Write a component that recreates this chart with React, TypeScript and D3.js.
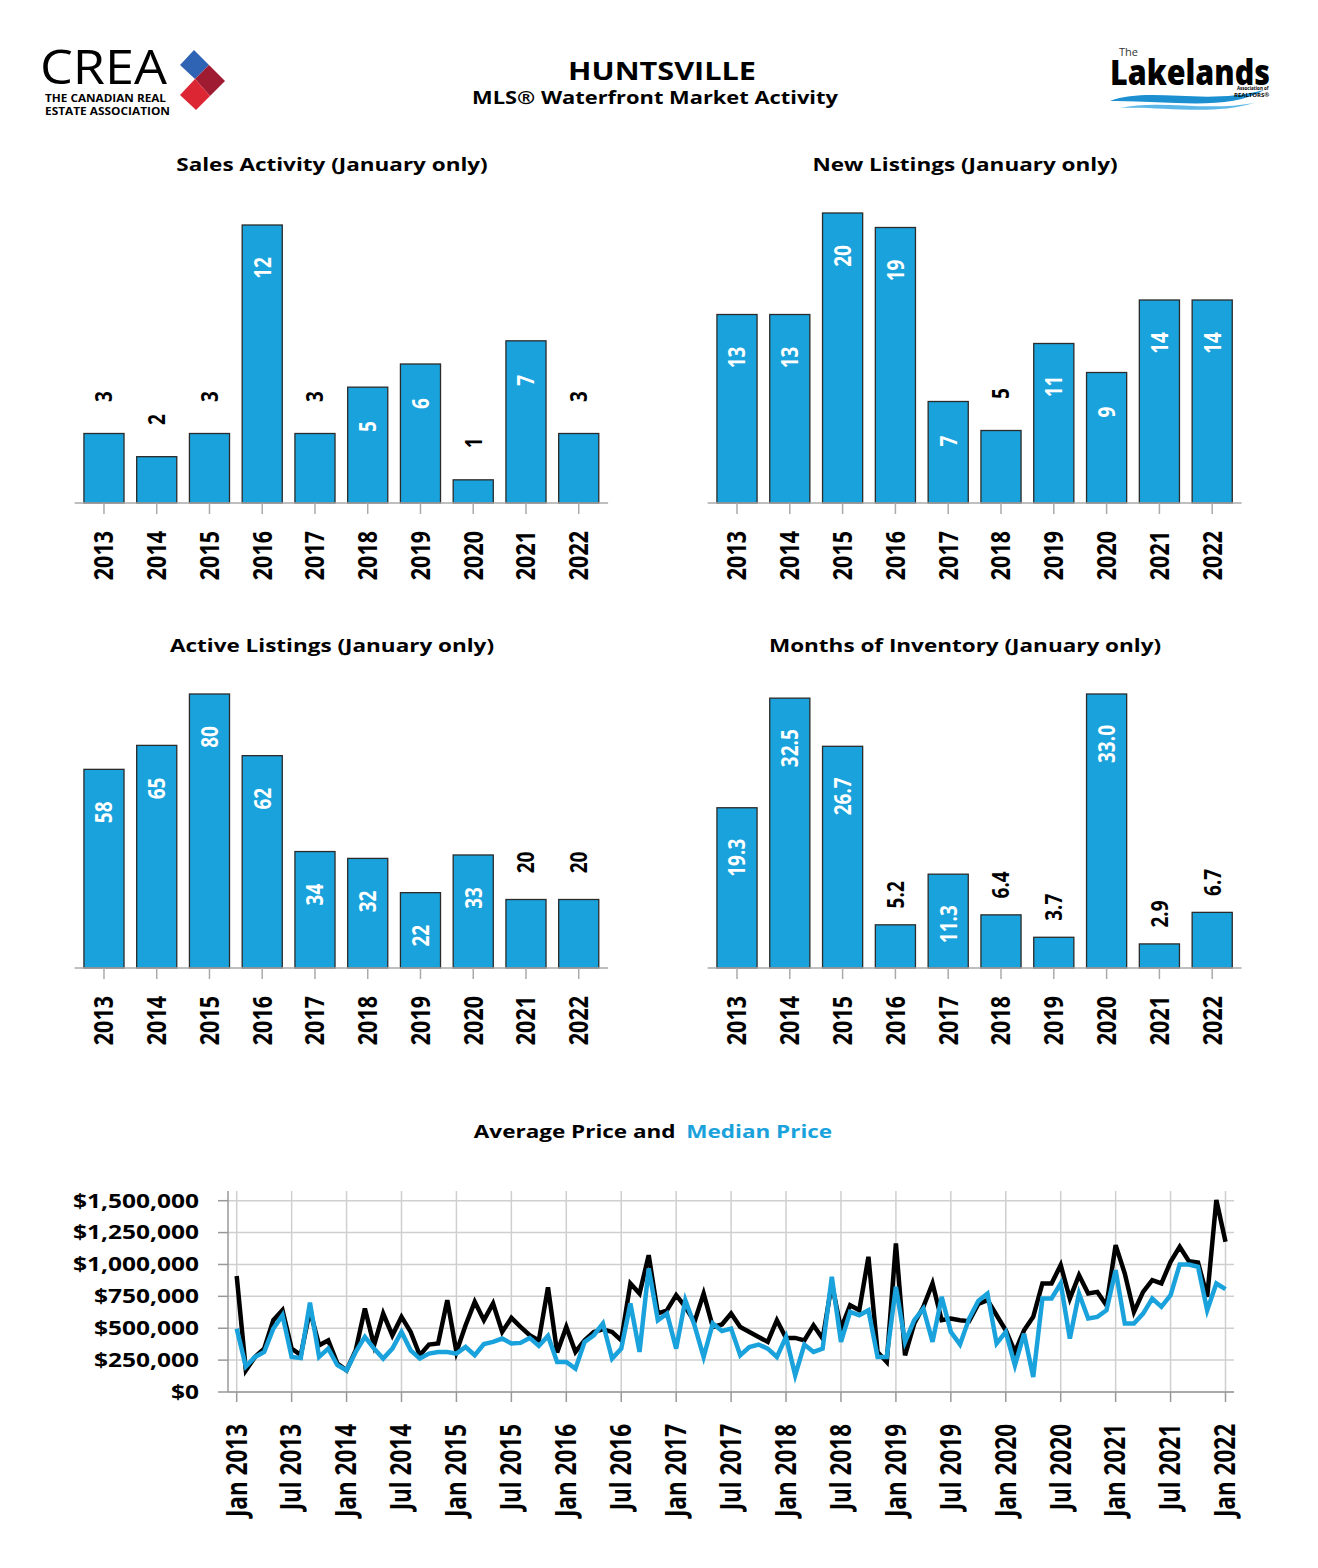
import React from "react";
import * as d3 from "d3";

const years = ["2013", "2014", "2015", "2016", "2017", "2018", "2019", "2020", "2021", "2022"];
const salesActivity = [3, 2, 3, 12, 3, 5, 6, 1, 7, 3];
const newListings = [13, 13, 20, 19, 7, 5, 11, 9, 14, 14];
const activeListings = [58, 65, 80, 62, 34, 32, 22, 33, 20, 20];
const monthsInventory = [19.3, 32.5, 26.7, 5.2, 11.3, 6.4, 3.7, 33.0, 2.9, 6.7];

const averagePrice = [
  910, 170, 275, 340, 563, 641, 340, 290, 640, 366, 405, 222,
  170, 327, 654, 366, 615, 445, 589, 471, 288, 372, 380, 720,
  314, 523, 707, 563, 694, 471, 581, 510, 445, 405, 820, 310,
  510, 314, 405, 471, 492, 471, 405, 851, 772, 1073, 615, 641,
  759, 668, 550, 772, 510, 530, 615, 510, 471, 432, 393, 563,
  424, 424, 405, 523, 419, 850, 497, 680, 641, 1060, 314, 236,
  1165, 288, 537, 668, 851, 563, 576, 563, 555, 690, 720, 602,
  484, 314, 484, 589, 851, 851, 995, 733, 916, 772, 785, 680,
  1152, 929, 628, 785, 877, 851, 1021, 1139, 1026, 1016, 746, 1505,
  1178,
].map((v) => v * 1000);

const medianPrice = [
  497, 200, 275, 314, 497, 602, 275, 267, 700, 275, 340, 210,
  170, 314, 432, 340, 262, 340, 471, 327, 262, 301, 314, 314,
  301, 353, 288, 376, 393, 419, 380, 385, 424, 361, 440, 236,
  236, 183, 393, 445, 537, 262, 340, 694, 314, 969, 563, 615,
  340, 720, 523, 275, 537, 478, 497, 288, 353, 372, 340, 275,
  432, 131, 372, 314, 340, 903, 393, 628, 602, 641, 275, 275,
  825, 393, 563, 654, 393, 746, 471, 373, 576, 713, 772, 380,
  471, 209, 458, 118, 733, 733, 851, 419, 772, 576, 589, 641,
  955, 537, 537, 615, 733, 668, 759, 1000, 1000, 982, 641, 851,
  806,
].map((v) => v * 1000);

const priceTicks = [0, 250000, 500000, 750000, 1000000, 1250000, 1500000];
const monthTickLabels = [
  "Jan 2013", "Jul 2013", "Jan 2014", "Jul 2014", "Jan 2015", "Jul 2015", "Jan 2016",
  "Jul 2016", "Jan 2017", "Jul 2017", "Jan 2018", "Jul 2018", "Jan 2019", "Jul 2019",
  "Jan 2020", "Jul 2020", "Jan 2021", "Jul 2021", "Jan 2022",
];

const BLUE = "#19a2db";
const FONT = "'Open Sans', sans-serif";
const SX = 1.25;

type TProps = {
  x: number;
  y: number;
  rot?: number;
  size: number;
  anchor?: string;
  fill?: string;
  weight?: number;
  dy?: string;
  children: React.ReactNode;
};

function T({ x, y, rot = 0, size, anchor = "middle", fill = "#000", weight = 700, dy, children }: TProps) {
  return (
    <text
      transform={`translate(${x},${y}) scale(${SX},1)${rot ? ` rotate(${rot})` : ""}`}
      fontSize={size}
      fontFamily={FONT}
      fontWeight={weight}
      textAnchor={anchor}
      fill={fill}
      dy={dy}
    >
      {children}
    </text>
  );
}

type BarProps = {
  title: string;
  titleX: number;
  titleY: number;
  values: number[];
  fmt: (v: number) => string;
  x0: number;
  x1: number;
  base: number;
  top: number;
  max: number;
};

function BarChart({ title, titleX, titleY, values, fmt, x0, x1, base, top, max }: BarProps) {
  const x = d3.scaleBand<string>().domain(years).range([x0, x1]).paddingInner(0.24).paddingOuter(0.12);
  const y = d3.scaleLinear().domain([0, max]).range([base, top]);
  return (
    <g>
      <T x={titleX} y={titleY} size={18}>{title}</T>
      {years.map((yr, i) => {
        const v = values[i];
        const yt = y(v);
        const h = base - yt;
        const bx = x(yr)!;
        const label = fmt(v);
        const inside = h > 74;
        const ly = inside ? yt + 36 + 3.5 * label.length : yt - (label.length >= 3 ? 30 : 37);
        return (
          <g key={yr}>
            <rect x={bx} y={yt} width={x.bandwidth()} height={h} fill={BLUE} stroke="#2b2b2b" strokeWidth={1.3} />
            <T x={bx + x.bandwidth() / 2} y={ly} rot={-90} size={19} dy="0.35em" fill={inside ? "#fff" : "#000"}>
              {label}
            </T>
          </g>
        );
      })}
      <line x1={x0 - 3} x2={x1 + 3} y1={base} y2={base} stroke="#aaa" strokeWidth={1.5} />
      {years.map((yr) => {
        const c = x(yr)! + x.bandwidth() / 2;
        return (
          <g key={"t" + yr}>
            <line x1={c} x2={c} y1={base} y2={base + 11} stroke="#aaa" strokeWidth={1.5} />
            <T x={c} y={base + 28} rot={-90} size={21.5} anchor="end" dy="0.35em">{yr}</T>
          </g>
        );
      })}
    </g>
  );
}

function PriceChart() {
  const left = 228;
  const right = 1234;
  const x = d3.scaleLinear().domain([0, averagePrice.length - 1]).range([236.7, 1225.5]);
  const y = d3.scaleLinear().domain([0, 1500000]).range([1392, 1200.7]);
  const line = d3
    .line<number>()
    .x((_, i) => x(i))
    .y((d) => y(d))
    .curve(d3.curveLinear);
  const fmt = (v: number) => "$" + d3.format(",")(v);
  return (
    <g>
      <text
        transform={`translate(653,1138) scale(${SX},1)`}
        fontSize={18}
        fontFamily={FONT}
        fontWeight={700}
        textAnchor="middle"
      >
        <tspan fill="#000">Average Price and </tspan>
        <tspan fill={BLUE} dx={4}>Median Price</tspan>
      </text>
      {priceTicks.map((t) => (
        <g key={t}>
          <line x1={left} x2={right} y1={y(t)} y2={y(t)} stroke="#cfcfcf" strokeWidth={1.5} />
          <line x1={left - 10} x2={left} y1={y(t)} y2={y(t)} stroke="#999" strokeWidth={1.5} />
          <T x={199} y={y(t)} size={19.6} anchor="end" dy="0.35em">{fmt(t)}</T>
        </g>
      ))}
      {monthTickLabels.map((lab, k) => {
        const xx = x(k * 6);
        return (
          <g key={lab}>
            <line x1={xx} x2={xx} y1={1191} y2={1392} stroke="#cfcfcf" strokeWidth={1.5} />
            <line x1={xx} x2={xx} y1={1392} y2={1402} stroke="#999" strokeWidth={1.5} />
            <T x={xx} y={1424} rot={-90} size={22.5} anchor="end" dy="0.35em">{lab}</T>
          </g>
        );
      })}
      <line x1={left} x2={left} y1={1191} y2={1392} stroke="#999" strokeWidth={1.5} />
      <line x1={left} x2={right} y1={1392} y2={1392} stroke="#999" strokeWidth={1.5} />
      <path d={line(averagePrice) || ""} fill="none" stroke="#000" strokeWidth={4.5} strokeLinejoin="miter" />
      <path d={line(medianPrice) || ""} fill="none" stroke={BLUE} strokeWidth={4.5} strokeLinejoin="miter" />
    </g>
  );
}

function Header() {
  return (
    <g>
      <text x={40} y={84} fontSize={48} fontFamily={FONT} fontWeight={400} textLength={127} lengthAdjust="spacingAndGlyphs">CREA</text>
      <text x={45} y={102} fontSize={10} fontFamily={FONT} fontWeight={700} textLength={121} lengthAdjust="spacingAndGlyphs">THE CANADIAN REAL</text>
      <text x={45} y={115} fontSize={10} fontFamily={FONT} fontWeight={700} textLength={125} lengthAdjust="spacingAndGlyphs">ESTATE ASSOCIATION</text>
      <polygon points="180,65 194,50 209,65 195,79" fill="#2f63b4" />
      <polygon points="195,79 209,65 225,81 210,96" fill="#9e1b32" />
      <polygon points="180,95 195,79 210,96 196,110" fill="#dd2634" />

      <T x={662} y={80} size={24.5}>HUNTSVILLE</T>
      <T x={655} y={104} size={17.5}>MLS® Waterfront Market Activity</T>

      <text x={1119} y={56} fontSize={11} fontFamily={FONT} fontWeight={400} fill="#333">The</text>
      <text x={1110} y={85} fontSize={36} fontFamily={FONT} fontWeight={800} textLength={160} lengthAdjust="spacingAndGlyphs">Lakelands</text>
      <path d="M1110,101 C1150,86 1205,106 1264,90 C1228,112 1165,100 1110,101 Z" fill="#1b8fd0" />
      <path d="M1120,108 C1160,99 1205,112 1254,103 C1212,116 1160,106 1120,108 Z" fill="#5bb8e8" />
      <text x={1237} y={90} fontSize={4.5} fontFamily={FONT} fontWeight={700}>Association of</text>
      <text x={1234} y={96.5} fontSize={6} fontFamily={FONT} fontWeight={700}>REALTORS®</text>
    </g>
  );
}

export default function App() {
  const one = (v: number) => d3.format(".1f")(v);
  const int = (v: number) => String(v);
  return (
    <svg width={1318} height={1568} style={{ display: "block", position: "absolute", left: 0, top: 0, background: "#fff" }}>
      <rect width={1318} height={1568} fill="#fff" />
      <Header />
      <BarChart title="Sales Activity (January only)" titleX={332} titleY={171} values={salesActivity} fmt={int} x0={77.6} x1={605.1} base={503} top={225} max={12} />
      <BarChart title="New Listings (January only)" titleX={965} titleY={171} values={newListings} fmt={int} x0={710.6} x1={1238.6} base={503} top={213} max={20} />
      <BarChart title="Active Listings (January only)" titleX={332} titleY={652} values={activeListings} fmt={int} x0={77.6} x1={605.1} base={968} top={694} max={80} />
      <BarChart title="Months of Inventory (January only)" titleX={965} titleY={652} values={monthsInventory} fmt={one} x0={710.6} x1={1238.6} base={968} top={694} max={33} />
      <PriceChart />
    </svg>
  );
}
